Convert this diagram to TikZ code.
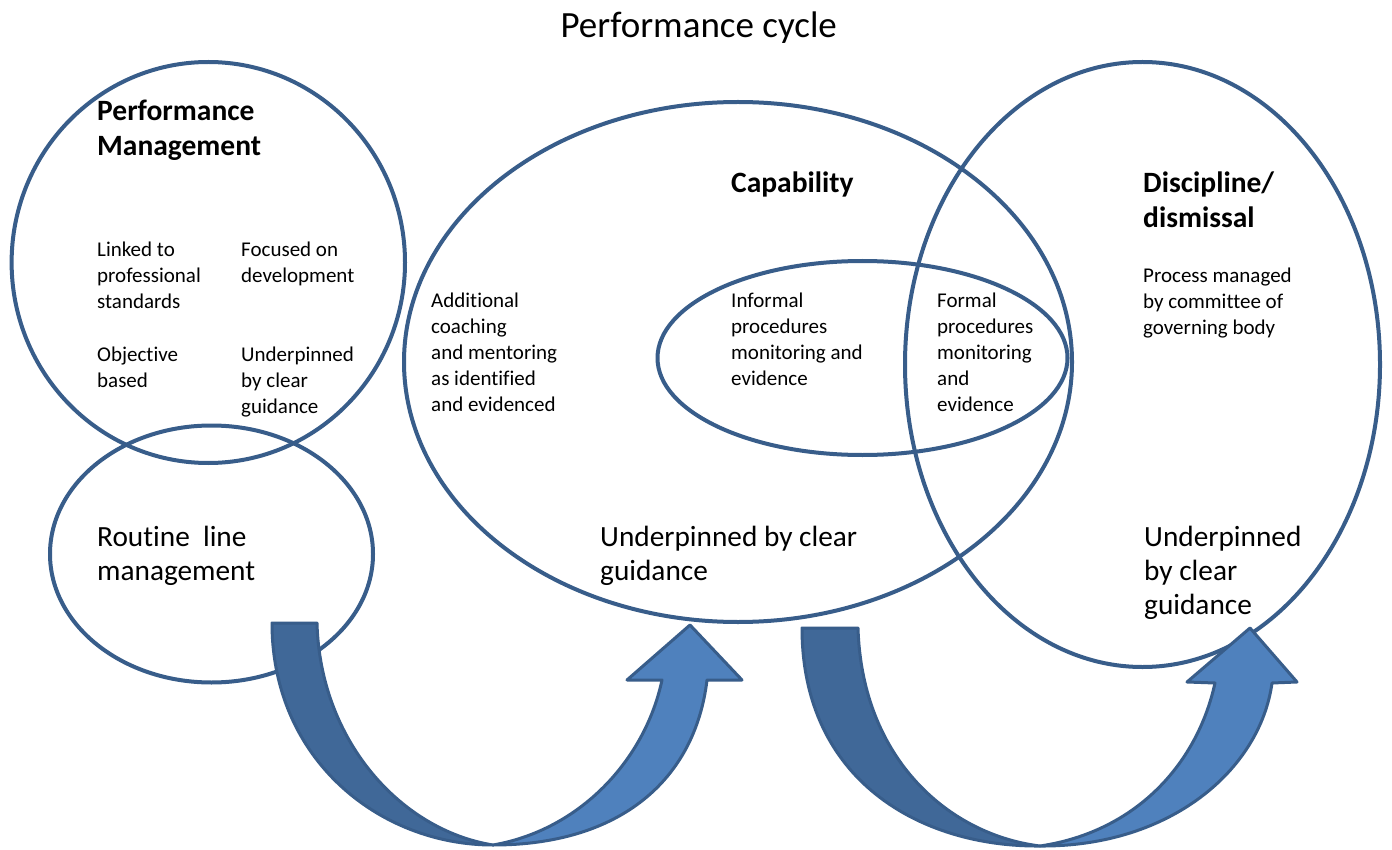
\documentclass[tikz,border=0pt]{standalone}
\usepackage{fontspec}
\setmainfont[Ligatures={NoCommon}]{Carlito}
\definecolor{lineblue}{RGB}{56,93,138}
\definecolor{lightblue}{RGB}{79,129,189}
\definecolor{darkblue}{RGB}{64,104,152}
\newcommand{\txtblk}[1]{\begin{tabular}[t]{@{}l@{}}#1\end{tabular}}
\begin{document}
\begin{tikzpicture}[x=1pt,y=-1pt,
  ring/.style={draw=lineblue, line width=4pt},
  arrowdark/.style={fill=darkblue, draw=lineblue, line width=3pt, line join=round},
  arrowlight/.style={fill=lightblue, draw=lineblue, line width=3pt, line join=round},
  small/.style={anchor=base west, inner sep=0pt, font=\fontsize{21}{26}\selectfont},
  big/.style={anchor=base west, inner sep=0pt, font=\fontsize{29.3}{34}\selectfont},
  headtxt/.style={anchor=base west, inner sep=0pt, font=\bfseries\fontsize{29.5}{35}\selectfont}]
\useasboundingbox (0,0) rectangle (1392,850);
\fill[white] (0,0) rectangle (1392,850);

% ellipses
\draw[ring] (208.3,262.5) ellipse [x radius=196.7pt, y radius=200.5pt];
\draw[ring] (211.5,554) ellipse [x radius=161.5pt, y radius=128.5pt];
\draw[ring] (738,362) ellipse [x radius=334pt, y radius=260pt];
\draw[ring] (1142.5,364.5) ellipse [x radius=237.5pt, y radius=302.5pt];
\draw[ring] (862.5,358) ellipse [x radius=205pt, y radius=97pt];

% arrow 1
\draw[arrowdark] (272,623) -- (317,623) .. controls (320,740) and (400,830) .. (493,845)
  .. controls (380,845) and (272,760) .. (272,623) -- cycle;
\draw[arrowlight] (493,845) .. controls (620,845) and (695,780) .. (707,680) -- (742,680)
  -- (690,625) -- (627,680) -- (662,680) .. controls (645,760) and (580,830) .. (493,845) -- cycle;

% arrow 2
\draw[arrowdark] (802,628) -- (858,628) .. controls (862,760) and (950,835) .. (1040,846)
  .. controls (920,847) and (802,780) .. (802,628) -- cycle;
\draw[arrowlight] (1040,846) .. controls (1170,847) and (1260,770) .. (1272,683) -- (1297,682)
  -- (1250,628) -- (1187,682) -- (1215,683) .. controls (1197,765) and (1135,832) .. (1040,846) -- cycle;

% texts
\node[anchor=base, inner sep=0pt, font=\fontsize{37}{44}\selectfont] (title) at (698.7,37.3) {Performance cycle};

\node[headtxt] (pmhead) at (97,121) {\txtblk{Performance\\Management}};
\node[small] (linked) at (97,257) {\txtblk{Linked to\\professional\\standards}};
\node[small] (focused) at (241,257) {\txtblk{Focused on\\development}};
\node[small] (objective) at (97,361) {\txtblk{Objective\\based}};
\node[small] (underpm) at (241,361) {\txtblk{Underpinned\\by clear\\guidance}};
\node[big] (routine) at (97,546) {\txtblk{Routine\ \ line\\management}};

\node[headtxt] (caphead) at (731,192.3) {Capability};
\node[small] (additional) at (431,308) {\txtblk{Additional\\coaching\\and mentoring\\as identified\\and evidenced}};
\node[small] (informal) at (731,308) {\txtblk{Informal\\procedures\\monitoring and\\evidence}};
\node[small] (formal) at (937,308) {\txtblk{Formal\\procedures\\monitoring\\and\\evidence}};
\node[big] (undercap) at (600,546) {\txtblk{Underpinned by clear\\guidance}};

\node[headtxt] (dischead) at (1143,193) {\txtblk{Discipline/\\dismissal}};
\node[small] (process) at (1143,283) {\txtblk{Process managed\\by committee of\\governing body}};
\node[big] (underdis) at (1144,546) {\txtblk{Underpinned\\by clear\\guidance}};
\end{tikzpicture}
\end{document}
